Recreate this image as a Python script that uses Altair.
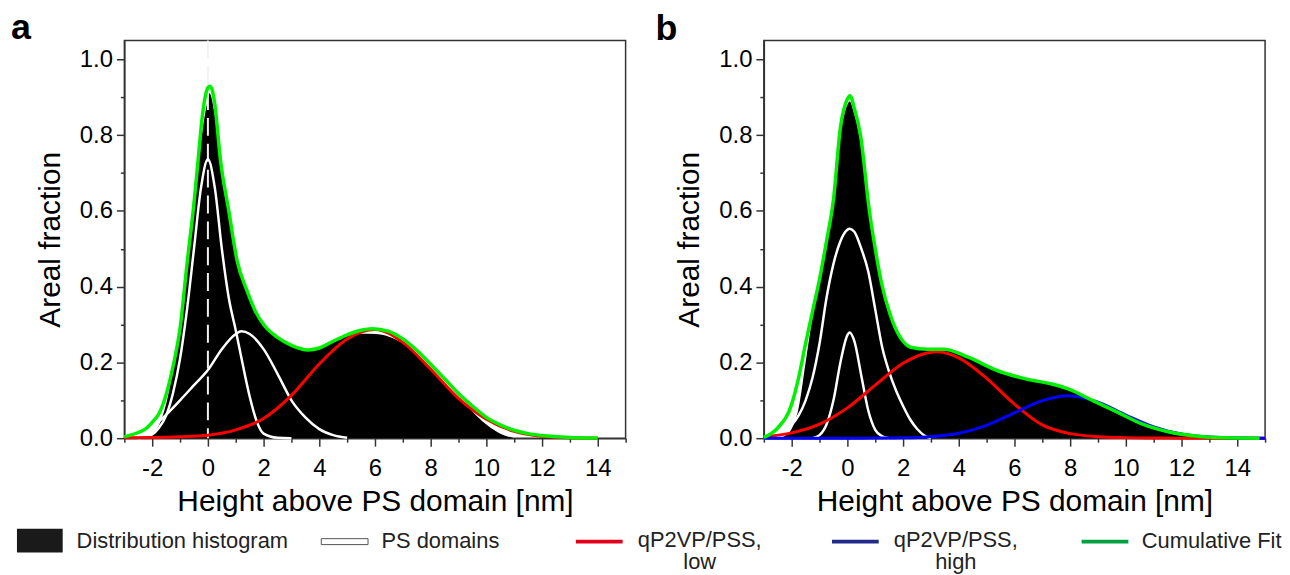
import altair as alt
import pandas as pd

# ---------------- Panel a data ----------------
A_HIST_X = [-2.5, -2.25, -2, -1.75, -1.5, -1.25, -1, -0.75, -0.5, -0.25, 0, 0.05, 0.25, 0.5, 0.75, 1,
            1.25, 1.5, 1.75, 2, 2.5, 3, 3.5, 4, 4.5, 5, 5.5, 6, 6.5, 7, 7.5, 8, 8.5, 9, 9.5, 10, 10.5, 11]
A_HIST_Y = [0, 0.004, 0.012, 0.035, 0.09, 0.18, 0.28, 0.45, 0.6, 0.78, 0.895, 0.911, 0.85, 0.69, 0.585, 0.48,
            0.41, 0.37, 0.33, 0.30, 0.265, 0.245, 0.232, 0.237, 0.255, 0.27, 0.276, 0.275, 0.268, 0.25, 0.22,
            0.185, 0.145, 0.108, 0.07, 0.036, 0.012, 0.0]

A_FIT_X = [-3, -2.5, -2.25, -2, -1.75, -1.5, -1.25, -1, -0.75, -0.5, -0.35, -0.2, -0.1, 0, 0.07, 0.15, 0.25,
           0.45, 0.75, 1.05, 1.4, 1.7, 2, 2.5, 3, 3.6, 4, 4.5, 5, 5.5, 5.9, 6.5, 7, 7.5, 8, 8.5, 9, 9.5, 10,
           10.5, 11, 11.5, 12, 13, 14]
A_FIT_Y = [0.004, 0.015, 0.024, 0.042, 0.066, 0.115, 0.19, 0.29, 0.46, 0.62, 0.735, 0.85, 0.9, 0.925, 0.929,
           0.92, 0.88, 0.735, 0.6, 0.468, 0.39, 0.336, 0.30, 0.266, 0.245, 0.233, 0.238, 0.256, 0.273, 0.285,
           0.289, 0.282, 0.262, 0.232, 0.195, 0.157, 0.118, 0.085, 0.055, 0.035, 0.021, 0.012, 0.007, 0.002,
           0.0005]

A_PS1_X = [-2.5, -2, -1.75, -1.5, -1.25, -1, -0.75, -0.5, -0.25, 0, 0.25, 0.5, 0.75, 1, 1.25, 1.5, 1.75, 2,
           2.5, 3]
A_PS1_Y = [0, 0.01, 0.028, 0.06, 0.12, 0.21, 0.34, 0.5, 0.66, 0.736, 0.66, 0.5, 0.37, 0.285, 0.195, 0.11,
           0.045, 0.012, 0.001, 0]

A_PS2_X = [-3, -2.5, -2, -1.5, -1, -0.5, 0, 0.5, 1, 1.2, 1.5, 2, 2.5, 3, 3.5, 4, 4.5, 5]
A_PS2_Y = [0.003, 0.012, 0.03, 0.062, 0.1, 0.14, 0.18, 0.235, 0.275, 0.282, 0.275, 0.235, 0.17, 0.1, 0.055,
           0.024, 0.008, 0.001]

A_LOW_X = [-3, -2, -1, 0, 1, 2, 3, 4, 5, 6, 7, 8, 9, 10, 11, 12, 13, 14]
A_LOW_Y = [0.001, 0.002, 0.004, 0.008, 0.022, 0.052, 0.113, 0.196, 0.262, 0.287, 0.253, 0.182, 0.105, 0.05,
           0.018, 0.005, 0.001, 0]

A_ZERO_LINE = [0]

# ---------------- Panel b data ----------------
B_HIST_X = [-2.5, -2.25, -2, -1.75, -1.5, -1.25, -1, -0.75, -0.5, -0.25, 0, 0.08, 0.25, 0.5, 0.75, 1, 1.25,
            1.5, 1.75, 2, 2.5, 3, 3.5, 4, 4.5, 5, 5.5, 6, 6.5, 7, 7.5, 8, 8.5, 9, 9.5, 10, 10.5, 11, 11.5, 12,
            12.5, 13]
B_HIST_Y = [0, 0.006, 0.025, 0.08, 0.2, 0.32, 0.41, 0.51, 0.62, 0.8, 0.88, 0.889, 0.855, 0.77, 0.62, 0.49,
            0.395, 0.325, 0.28, 0.255, 0.235, 0.232, 0.232, 0.222, 0.208, 0.19, 0.172, 0.162, 0.153, 0.146,
            0.138, 0.127, 0.11, 0.09, 0.072, 0.054, 0.037, 0.024, 0.014, 0.007, 0.003, 0]

B_FIT_X = [-3, -2.5, -2, -1.75, -1.5, -1.25, -1, -0.75, -0.5, -0.25, 0, 0.095, 0.25, 0.47, 0.79, 1, 1.24,
           1.53, 1.9, 2.28, 2.87, 3.47, 4.36, 5.4, 6.44, 7.34, 7.93, 8.82, 9.72, 10.6, 11.65, 12.5, 13.3, 14.8]
B_FIT_Y = [0.002, 0.027, 0.09, 0.16, 0.25, 0.335, 0.42, 0.52, 0.63, 0.82, 0.895, 0.904, 0.87, 0.8, 0.6, 0.5,
           0.405, 0.328, 0.266, 0.24, 0.235, 0.235, 0.213, 0.178, 0.156, 0.143, 0.13, 0.099, 0.068, 0.037,
           0.015, 0.006, 0.002, 0]

B_PS1_X = [-1.25, -1, -0.75, -0.5, -0.25, 0, 0.08, 0.25, 0.5, 0.75, 1, 1.25, 1.5]
B_PS1_Y = [0, 0.008, 0.036, 0.1, 0.2, 0.272, 0.279, 0.256, 0.165, 0.073, 0.022, 0.005, 0]

B_PS2_X = [-3, -2.5, -2.25, -2, -1.75, -1.5, -1.25, -1, -0.75, -0.5, -0.25, 0, 0.08, 0.25, 0.5, 0.75, 1,
           1.25, 1.5, 1.75, 2, 2.25, 2.5, 2.75, 3]
B_PS2_Y = [0, 0.007, 0.018, 0.035, 0.06, 0.1, 0.16, 0.25, 0.37, 0.46, 0.52, 0.55, 0.553, 0.545, 0.5, 0.44,
           0.34, 0.24, 0.175, 0.125, 0.085, 0.05, 0.025, 0.008, 0]

B_LOW_X = [-3, -2, -1, 0, 1, 2, 3, 3.2, 4, 5, 6, 7, 8, 9, 10, 11, 12, 13, 14, 15]
B_LOW_Y = [0.004, 0.014, 0.037, 0.08, 0.14, 0.198, 0.227, 0.228, 0.212, 0.158, 0.09, 0.035, 0.012, 0.004,
           0.0015, 0.0005, 0, 0, 0, 0]

B_HIGH_X = [-3, -2, -1, 0, 1, 2, 3, 4, 5, 6, 7, 7.93, 9, 10, 11, 12, 13, 14, 15]
B_HIGH_Y = [0, 0, 0, 0, 0.0003, 0.001, 0.004, 0.013, 0.034, 0.067, 0.099, 0.112, 0.095, 0.061, 0.03, 0.011,
            0.003, 0.0007, 0.0001]

# ---------------- Legend ----------------
LEG_SLOTS = [0, 1, 2, 3, 4]
LEG_LINE1 = ["Distribution histogram", "PS domains", "qP2VP/PSS,", "qP2VP/PSS,", "Cumulative Fit"]
LEG_LINE2 = ["", "", "low", "high", ""]
LEG_KIND = ["box", "outline", "line", "line", "line"]
LEG_COLORS = ["#1a1a1a", "#ffffff", "#e3001b", "#1f2a8a", "#00a043"]

X_TICKS = list(range(-3, 16))
Y_TICKS = [round(i * 0.1, 1) for i in range(11)]

FONT = "Liberation Sans"
PW, PH = 504, 400

xscale = alt.Scale(domain=[-3, 15], nice=False, zero=False)
yscale = alt.Scale(domain=[0, 1.05], nice=False, zero=True)

xaxis = alt.Axis(
    values=X_TICKS,
    labelExpr="datum.value % 2 === 0 ? '' + datum.value : ''",
    tickSize={"condition": {"test": "datum.value % 2 !== 0", "value": 4}, "value": 8},
    labelFontSize=24, titleFontSize=30, titleFontWeight="normal",
    labelPadding=11, titlePadding=6, grid=False,
    domainColor="#333333", tickColor="#333333", domainWidth=1.5, tickWidth=1.5,
    labelColor="black", titleColor="black", labelFlush=False,
    title="Height above PS domain [nm]",
)
yaxis = alt.Axis(
    values=Y_TICKS,
    labelExpr="round(datum.value * 10) % 2 === 0 ? format(datum.value, '.1f') : ''",
    tickSize={"condition": {"test": "round(datum.value * 10) % 2 !== 0", "value": 4}, "value": 8},
    labelFontSize=24, titleFontSize=30, titleFontWeight="normal",
    labelPadding=4, titlePadding=14, grid=False,
    domainColor="#333333", tickColor="#333333", domainWidth=1.5, tickWidth=1.5,
    labelColor="black", titleColor="black", labelFlush=False,
    title="Areal fraction",
)

X = alt.X("x:Q", scale=xscale, axis=xaxis)
Y = alt.Y("y:Q", scale=yscale, axis=yaxis)


def df(xs, ys):
    return pd.DataFrame({"x": xs, "y": ys})


def curve(xs, ys, color, width):
    return alt.Chart(df(xs, ys)).mark_line(
        color=color, strokeWidth=width, interpolate="monotone"
    ).encode(x=X, y=Y)


def panel(label, label_dx, hist, ps1, ps2, low, fit, high=None, zero=None):
    layers = [
        alt.Chart(df(*hist)).mark_area(color="black", interpolate="monotone").encode(x=X, y=Y)
    ]
    if zero is not None:
        layers.append(
            alt.Chart(pd.DataFrame({"x": zero})).mark_rule(
                color="#f2f2f2", strokeWidth=2, strokeDash=[18, 8]
            ).encode(x=X)
        )
    layers.append(curve(*ps1, "white", 2.5))
    layers.append(curve(*ps2, "white", 2.5))
    layers.append(curve(*low, "#ff0000", 3))
    if high is not None:
        layers.append(curve(*high, "#0000ff", 3))
    layers.append(curve(*fit, "#00f000", 3.5))
    return alt.layer(*layers).properties(
        width=PW, height=PH,
        title=alt.TitleParams(
            text=label, anchor="start", frame="group", fontSize=36, fontWeight="bold",
            font=FONT, color="black", dx=label_dx, offset=-8,
        ),
    )


pa = panel("a", -114, (A_HIST_X, A_HIST_Y), (A_PS1_X, A_PS1_Y), (A_PS2_X, A_PS2_Y),
           (A_LOW_X, A_LOW_Y), (A_FIT_X, A_FIT_Y), zero=A_ZERO_LINE)
pb = panel("b", -109, (B_HIST_X, B_HIST_Y), (B_PS1_X, B_PS1_Y), (B_PS2_X, B_PS2_Y),
           (B_LOW_X, B_LOW_Y), (B_FIT_X, B_FIT_Y), high=(B_HIGH_X, B_HIGH_Y))

# legend chart (its origin lines up with panel a's plot area left edge)
leg_df = pd.DataFrame({"slot": LEG_SLOTS, "l1": LEG_LINE1, "l2": LEG_LINE2, "kind": LEG_KIND,
                       "key": [str(s) for s in LEG_SLOTS]})
LX = alt.X("slot:Q", scale=alt.Scale(domain=[0, 1, 2, 3, 4], range=[-85, 221.5, 477.5, 735, 986]),
           axis=None)
LC = alt.Color("key:N", scale=alt.Scale(domain=[str(s) for s in LEG_SLOTS], range=LEG_COLORS),
               legend=None)
leg_base = alt.Chart(leg_df)
leg = alt.layer(
    leg_base.mark_rect(width=46, height=24).encode(x=LX, y=alt.value(12), color=LC)
    .transform_filter("datum.kind === 'box'"),
    leg_base.mark_rect(width=47, height=6, stroke="#555555", strokeWidth=1).encode(
        x=LX, y=alt.value(13), color=LC).transform_filter("datum.kind === 'outline'"),
    leg_base.mark_rect(width=47, height=4).encode(x=LX, y=alt.value(13), color=LC)
    .transform_filter("datum.kind === 'line'"),
    # single-line labels
    leg_base.mark_text(align="left", baseline="middle", dx=37, fontSize=22, font=FONT, color="#222222")
    .encode(x=LX, y=alt.value(12), text="l1:N")
    .transform_filter("datum.l2 === ''"),
    # two-line labels (centred lines, one text item)
    leg_base.mark_text(align="center", baseline="top", dx=101, dy=-11, fontSize=22, lineHeight=23,
                       font=FONT, color="#222222")
    .encode(x=LX, y=alt.value(12), text=alt.Text("txt:N"))
    .transform_filter("datum.l2 !== ''")
    .transform_calculate(txt="[datum.l1, datum.l2]"),
).properties(width=1000, height=24, view=alt.ViewBackground(strokeOpacity=0))

chart = alt.vconcat(
    alt.hconcat(pa, pb, spacing=27),
    leg,
    spacing=11,
).properties(padding={"left": 2, "top": 0, "right": 0, "bottom": 0}).configure(font=FONT).configure_view(
    stroke="#333333", strokeWidth=1.5
)

chart.save("out.html", embed_options={"renderer": "svg", "actions": False})
